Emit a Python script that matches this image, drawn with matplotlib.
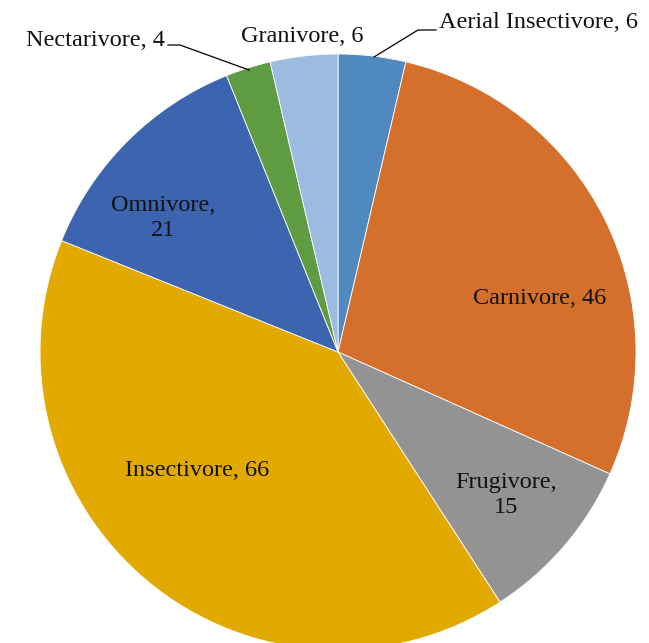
import numpy as np
import matplotlib.pyplot as plt

# diet guild counts
guilds = ['Aerial Insectivore', 'Carnivore', 'Frugivore', 'Insectivore',
          'Omnivore', 'Nectarivore', 'Granivore']
counts = [6, 46, 15, 66, 21, 4, 6]
colors = ['#4F89BF', '#D4702C', '#939393', '#E2A900',
          '#3D64AE', '#5F9C41', '#9BBBE0']

W, H = 649, 643
fig = plt.figure(figsize=(W / 100, H / 100), dpi=100)
ax = fig.add_axes([0, 0, 1, 1])

cx, cy, r = 338, H - 352, 298
ax.pie(counts, colors=colors, startangle=90, counterclock=False,
       center=(cx, cy), radius=r, frame=True,
       wedgeprops=dict(edgecolor='white', linewidth=0.6))
ax.axis('off')
ax.set_xlim(0, W)
ax.set_ylim(0, H)
ax.set_aspect('equal')

font = dict(family='Liberation Serif', fontsize=17.5, color='#111111')

def px(x, y):
    return x, H - y

# labels inside the pie
ax.text(*px(540, 298), 'Carnivore, 46', ha='center', va='center', **font)
ax.text(*px(506, 495), 'Frugivore,\n15', ha='center', va='center',
        linespacing=1.3, **font)
ax.text(*px(197, 470), 'Insectivore, 66', ha='center', va='center', **font)
ax.text(*px(163, 218), 'Omnivore,\n21', ha='center', va='center',
        linespacing=1.3, **font)

# labels outside with leader lines
ax.text(*px(302, 37), 'Granivore, 6', ha='center', va='center', **font)
ax.text(*px(439, 22), 'Aerial Insectivore, 6', ha='left', va='center', **font)
ax.plot(*zip(px(374, 57), px(418, 30), px(436, 30)), color='black', lw=0.9)
ax.text(*px(165, 40), 'Nectarivore, 4', ha='right', va='center', **font)
ax.plot(*zip(px(168, 45), px(180, 45), px(249, 70)), color='black', lw=0.9)

fig.savefig('out.png', dpi=100)
